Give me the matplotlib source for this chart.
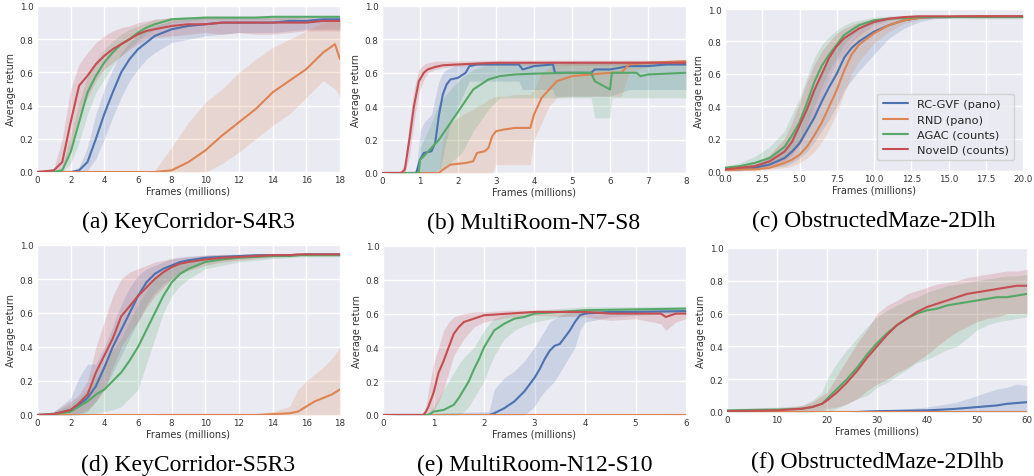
import matplotlib
matplotlib.use("Agg")
import matplotlib.pyplot as plt
import seaborn as sns
import numpy as np

sns.set_style("darkgrid")
plt.rcParams['font.family'] = ['DejaVu Sans']

COLORS = {"rc": "#4C72B0", "rnd": "#DD8452", "agac": "#55A868", "nov": "#C44E52"}
LABELS = {"rc": "RC-GVF (pano)", "rnd": "RND (pano)", "agac": "AGAC (counts)", "nov": "NovelD (counts)"}

# ---------------- (a) KeyCorridor-S4R3 ----------------
A_X = [0, 1, 1.5, 2, 2.5, 3, 3.5, 4, 4.5, 5, 5.5, 6, 6.5, 7, 8, 9, 10, 11, 12, 13, 14, 15, 16, 17, 17.7, 18]
A_RC = [0, 0, 0, 0, 0.01, 0.06, 0.2, 0.35, 0.48, 0.6, 0.68, 0.74, 0.78, 0.82, 0.86, 0.88, 0.89, 0.9, 0.9, 0.9, 0.9, 0.91, 0.91, 0.92, 0.92, 0.92]
A_RC_LO = [0, 0, 0, 0, 0, 0.01, 0.08, 0.2, 0.33, 0.45, 0.55, 0.62, 0.68, 0.72, 0.78, 0.8, 0.82, 0.83, 0.84, 0.84, 0.84, 0.85, 0.86, 0.86, 0.86, 0.86]
A_RC_HI = [0, 0, 0, 0, 0.03, 0.15, 0.35, 0.5, 0.62, 0.72, 0.78, 0.83, 0.86, 0.88, 0.91, 0.92, 0.93, 0.93, 0.93, 0.93, 0.93, 0.93, 0.93, 0.93, 0.93, 0.93]
A_RND = [0, 0, 0, 0, 0, 0, 0, 0, 0, 0, 0, 0, 0, 0, 0.01, 0.06, 0.13, 0.22, 0.3, 0.38, 0.48, 0.55, 0.62, 0.72, 0.77, 0.68]
A_RND_LO = [0, 0, 0, 0, 0, 0, 0, 0, 0, 0, 0, 0, 0, 0, 0, 0, 0, 0.05, 0.12, 0.2, 0.28, 0.35, 0.45, 0.55, 0.5, 0.45]
A_RND_HI = [0, 0, 0, 0, 0, 0, 0, 0, 0, 0, 0, 0, 0, 0.01, 0.15, 0.3, 0.42, 0.5, 0.6, 0.68, 0.75, 0.8, 0.85, 0.9, 0.92, 0.92]
A_AG = [0, 0, 0.01, 0.12, 0.3, 0.48, 0.58, 0.66, 0.72, 0.77, 0.8, 0.84, 0.87, 0.89, 0.92, 0.925, 0.93, 0.93, 0.93, 0.93, 0.935, 0.935, 0.935, 0.935, 0.935, 0.935]
A_AG_LO = [0, 0, 0, 0.05, 0.18, 0.35, 0.48, 0.56, 0.64, 0.7, 0.75, 0.79, 0.83, 0.86, 0.9, 0.91, 0.92, 0.92, 0.92, 0.92, 0.92, 0.92, 0.93, 0.93, 0.93, 0.93]
A_AG_HI = [0, 0, 0.03, 0.22, 0.42, 0.58, 0.67, 0.74, 0.79, 0.83, 0.86, 0.88, 0.9, 0.92, 0.93, 0.935, 0.94, 0.94, 0.94, 0.94, 0.94, 0.94, 0.94, 0.94, 0.94, 0.94]
A_NOV = [0, 0.01, 0.06, 0.3, 0.52, 0.58, 0.65, 0.7, 0.74, 0.77, 0.8, 0.83, 0.85, 0.86, 0.88, 0.89, 0.89, 0.9, 0.9, 0.9, 0.9, 0.9, 0.9, 0.91, 0.91, 0.91]
A_NOV_LO = [0, 0, 0.02, 0.15, 0.35, 0.45, 0.55, 0.62, 0.66, 0.7, 0.74, 0.77, 0.8, 0.81, 0.82, 0.83, 0.84, 0.83, 0.84, 0.83, 0.83, 0.84, 0.85, 0.85, 0.85, 0.85]
A_NOV_HI = [0, 0.02, 0.2, 0.5, 0.65, 0.72, 0.78, 0.82, 0.85, 0.87, 0.88, 0.9, 0.91, 0.92, 0.93, 0.93, 0.93, 0.93, 0.93, 0.93, 0.93, 0.93, 0.93, 0.93, 0.93, 0.93]

# ---------------- (b) MultiRoom-N7-S8 ----------------
B_RC_X = [0, 0.9, 1.0, 1.1, 1.3, 1.4, 1.5, 1.6, 1.7, 1.8, 2.0, 2.2, 2.3, 2.5, 3.0, 3.6, 3.7, 4.0, 4.5, 4.55, 5.0, 5.5, 5.6, 6.0, 6.5, 7.0, 7.5, 8.0]
B_RC = [0, 0, 0.08, 0.12, 0.13, 0.18, 0.35, 0.47, 0.53, 0.56, 0.57, 0.6, 0.64, 0.65, 0.65, 0.65, 0.62, 0.64, 0.65, 0.6, 0.6, 0.6, 0.62, 0.62, 0.64, 0.64, 0.65, 0.65]
B_RC_LO = [0, 0, 0, 0, 0, 0, 0, 0.1, 0.2, 0.3, 0.4, 0.5, 0.55, 0.55, 0.55, 0.55, 0.5, 0.5, 0.5, 0.46, 0.46, 0.46, 0.46, 0.46, 0.5, 0.5, 0.5, 0.5]
B_RC_HI = [0, 0.01, 0.25, 0.3, 0.35, 0.45, 0.55, 0.6, 0.62, 0.63, 0.65, 0.66, 0.66, 0.665, 0.665, 0.665, 0.665, 0.665, 0.67, 0.67, 0.67, 0.67, 0.67, 0.67, 0.67, 0.67, 0.67, 0.67]
B_RND_X = [0, 1.5, 1.6, 1.8, 2.2, 2.4, 2.5, 2.7, 2.8, 2.9, 3.0, 3.2, 3.5, 3.9, 4.0, 4.2, 4.4, 4.6, 5.0, 5.5, 6.0, 6.3, 6.5, 7.0, 8.0]
B_RND = [0, 0, 0.02, 0.05, 0.06, 0.07, 0.12, 0.13, 0.15, 0.22, 0.25, 0.26, 0.27, 0.27, 0.35, 0.45, 0.5, 0.55, 0.58, 0.59, 0.6, 0.6, 0.65, 0.66, 0.67]
B_RND_LO = [0, 0, 0, 0, 0, 0, 0, 0, 0, 0, 0.05, 0.05, 0.05, 0.05, 0.2, 0.3, 0.4, 0.45, 0.46, 0.46, 0.46, 0.46, 0.6, 0.64, 0.65]
B_RND_HI = [0, 0.01, 0.2, 0.3, 0.36, 0.38, 0.4, 0.42, 0.44, 0.45, 0.46, 0.46, 0.47, 0.47, 0.5, 0.6, 0.63, 0.65, 0.66, 0.67, 0.67, 0.67, 0.67, 0.67, 0.67]
B_AG_X = [0, 0.97, 1.0, 1.1, 1.3, 1.5, 1.8, 2.1, 2.4, 2.8, 3.1, 3.5, 4.0, 5.0, 5.5, 5.6, 6.0, 6.05, 6.5, 6.7, 6.8, 7.0, 8.0]
B_AG = [0, 0, 0.08, 0.1, 0.15, 0.2, 0.3, 0.4, 0.5, 0.56, 0.58, 0.59, 0.595, 0.6, 0.6, 0.55, 0.5, 0.6, 0.6, 0.6, 0.58, 0.59, 0.6]
B_AG_LO = [0, 0, 0, 0, 0, 0.02, 0.06, 0.12, 0.25, 0.38, 0.45, 0.45, 0.45, 0.45, 0.45, 0.33, 0.33, 0.45, 0.45, 0.45, 0.45, 0.45, 0.45]
B_AG_HI = [0, 0.01, 0.15, 0.2, 0.3, 0.42, 0.5, 0.57, 0.62, 0.65, 0.65, 0.66, 0.66, 0.66, 0.66, 0.66, 0.66, 0.66, 0.66, 0.66, 0.66, 0.66, 0.66]
B_NOV_X = [0, 0.5, 0.6, 0.72, 0.84, 0.97, 1.1, 1.2, 1.4, 1.6, 2.0, 3.0, 4.0, 5.0, 6.0, 7.0, 8.0]
B_NOV = [0, 0, 0.02, 0.2, 0.4, 0.55, 0.6, 0.62, 0.635, 0.645, 0.65, 0.66, 0.66, 0.66, 0.66, 0.66, 0.66]
B_NOV_LO = [0, 0, 0, 0.1, 0.3, 0.48, 0.56, 0.6, 0.62, 0.63, 0.64, 0.645, 0.645, 0.645, 0.645, 0.645, 0.645]
B_NOV_HI = [0, 0.01, 0.06, 0.3, 0.5, 0.62, 0.65, 0.66, 0.67, 0.67, 0.67, 0.675, 0.675, 0.675, 0.675, 0.675, 0.675]

# ---------------- (c) ObstructedMaze-2Dlh ----------------
C_X = [0, 1, 2, 3, 4, 4.5, 5, 5.5, 6, 6.5, 7, 7.5, 8, 8.5, 9, 10, 11, 12, 13, 14, 15, 17, 20]
C_RC = [0.01, 0.01, 0.02, 0.04, 0.08, 0.12, 0.17, 0.25, 0.33, 0.43, 0.52, 0.6, 0.7, 0.76, 0.8, 0.86, 0.9, 0.93, 0.945, 0.95, 0.95, 0.955, 0.955]
C_RC_LO = [0, 0, 0.01, 0.02, 0.03, 0.05, 0.08, 0.12, 0.18, 0.25, 0.32, 0.4, 0.5, 0.56, 0.62, 0.72, 0.82, 0.88, 0.92, 0.94, 0.945, 0.95, 0.95]
C_RC_HI = [0.02, 0.03, 0.04, 0.08, 0.15, 0.22, 0.3, 0.4, 0.5, 0.6, 0.7, 0.76, 0.82, 0.85, 0.88, 0.92, 0.94, 0.95, 0.955, 0.955, 0.955, 0.96, 0.96]
C_RND = [0, 0.01, 0.01, 0.02, 0.05, 0.07, 0.1, 0.15, 0.22, 0.3, 0.4, 0.5, 0.62, 0.72, 0.78, 0.85, 0.9, 0.93, 0.945, 0.95, 0.95, 0.955, 0.955]
C_RND_LO = [0, 0, 0, 0.01, 0.02, 0.03, 0.05, 0.08, 0.12, 0.18, 0.26, 0.36, 0.48, 0.6, 0.68, 0.79, 0.86, 0.91, 0.935, 0.945, 0.95, 0.95, 0.95]
C_RND_HI = [0.01, 0.02, 0.03, 0.05, 0.1, 0.14, 0.2, 0.27, 0.36, 0.46, 0.56, 0.66, 0.75, 0.81, 0.86, 0.9, 0.93, 0.95, 0.955, 0.955, 0.955, 0.96, 0.96]
C_AG = [0.02, 0.03, 0.05, 0.08, 0.15, 0.22, 0.3, 0.42, 0.55, 0.65, 0.72, 0.78, 0.84, 0.87, 0.9, 0.93, 0.94, 0.945, 0.95, 0.95, 0.95, 0.95, 0.95]
C_AG_LO = [0.01, 0.01, 0.02, 0.04, 0.08, 0.12, 0.18, 0.28, 0.4, 0.52, 0.62, 0.7, 0.78, 0.83, 0.87, 0.91, 0.93, 0.94, 0.945, 0.945, 0.945, 0.94, 0.94]
C_AG_HI = [0.03, 0.05, 0.09, 0.15, 0.25, 0.35, 0.45, 0.58, 0.7, 0.78, 0.83, 0.87, 0.9, 0.92, 0.93, 0.95, 0.955, 0.955, 0.955, 0.955, 0.955, 0.955, 0.955]
C_NOV = [0.01, 0.02, 0.03, 0.06, 0.12, 0.18, 0.28, 0.38, 0.5, 0.6, 0.7, 0.77, 0.82, 0.85, 0.88, 0.92, 0.94, 0.95, 0.955, 0.955, 0.955, 0.955, 0.955]
C_NOV_LO = [0, 0.01, 0.02, 0.03, 0.06, 0.1, 0.16, 0.24, 0.35, 0.46, 0.57, 0.67, 0.74, 0.8, 0.84, 0.9, 0.93, 0.945, 0.95, 0.95, 0.95, 0.95, 0.95]
C_NOV_HI = [0.02, 0.03, 0.05, 0.1, 0.2, 0.3, 0.42, 0.55, 0.66, 0.74, 0.8, 0.85, 0.88, 0.9, 0.92, 0.94, 0.955, 0.96, 0.96, 0.96, 0.96, 0.96, 0.96]

# ---------------- (d) KeyCorridor-S5R3 ----------------
D_X = [0, 1, 2, 2.5, 3, 3.5, 4, 4.5, 5, 5.5, 6, 6.5, 7, 7.5, 8, 8.5, 9, 10, 11, 12, 13, 14, 15, 15.5, 16, 16.5, 17, 17.5, 18]
D_RC = [0, 0.005, 0.03, 0.06, 0.1, 0.17, 0.28, 0.4, 0.5, 0.6, 0.7, 0.78, 0.83, 0.86, 0.88, 0.9, 0.91, 0.925, 0.93, 0.935, 0.94, 0.94, 0.94, 0.94, 0.945, 0.945, 0.945, 0.945, 0.945]
D_RC_LO = [0, 0, 0, 0, 0.02, 0.08, 0.15, 0.25, 0.35, 0.45, 0.55, 0.65, 0.72, 0.77, 0.8, 0.84, 0.86, 0.9, 0.92, 0.93, 0.935, 0.935, 0.935, 0.94, 0.94, 0.94, 0.94, 0.94, 0.94]
D_RC_HI = [0, 0.02, 0.1, 0.22, 0.3, 0.3, 0.4, 0.52, 0.65, 0.75, 0.82, 0.86, 0.88, 0.9, 0.92, 0.93, 0.935, 0.94, 0.945, 0.945, 0.945, 0.95, 0.95, 0.95, 0.95, 0.95, 0.95, 0.95, 0.95]
D_RND = [0, 0, 0, 0, 0, 0, 0, 0, 0, 0, 0, 0, 0, 0, 0, 0, 0, 0, 0, 0, 0, 0.005, 0.01, 0.02, 0.05, 0.08, 0.1, 0.12, 0.15]
D_RND_LO = [0] * 29
D_RND_HI = [0, 0, 0, 0, 0, 0, 0, 0, 0, 0, 0, 0, 0, 0.01, 0.01, 0.01, 0.01, 0.01, 0.01, 0.01, 0.005, 0.02, 0.05, 0.15, 0.2, 0.24, 0.28, 0.33, 0.4]
D_AG = [0, 0.005, 0.02, 0.05, 0.08, 0.12, 0.15, 0.2, 0.25, 0.32, 0.4, 0.5, 0.6, 0.7, 0.78, 0.83, 0.86, 0.9, 0.915, 0.925, 0.93, 0.935, 0.935, 0.94, 0.94, 0.94, 0.94, 0.94, 0.94]
D_AG_LO = [0, 0, 0, 0, 0, 0.01, 0.02, 0.03, 0.05, 0.1, 0.15, 0.3, 0.45, 0.6, 0.7, 0.76, 0.8, 0.86, 0.88, 0.9, 0.91, 0.92, 0.925, 0.93, 0.93, 0.93, 0.93, 0.93, 0.93]
D_AG_HI = [0, 0.02, 0.06, 0.1, 0.15, 0.22, 0.3, 0.38, 0.45, 0.55, 0.65, 0.73, 0.8, 0.85, 0.88, 0.9, 0.91, 0.93, 0.935, 0.94, 0.94, 0.945, 0.945, 0.945, 0.945, 0.945, 0.945, 0.945, 0.945]
D_NOV = [0, 0.005, 0.03, 0.07, 0.12, 0.25, 0.35, 0.45, 0.58, 0.64, 0.7, 0.75, 0.8, 0.84, 0.87, 0.89, 0.9, 0.915, 0.925, 0.93, 0.935, 0.94, 0.94, 0.945, 0.945, 0.945, 0.945, 0.945, 0.945]
D_NOV_LO = [0, 0, 0, 0.01, 0.03, 0.08, 0.15, 0.28, 0.4, 0.48, 0.55, 0.63, 0.7, 0.75, 0.8, 0.83, 0.85, 0.88, 0.9, 0.91, 0.92, 0.93, 0.935, 0.94, 0.94, 0.94, 0.94, 0.94, 0.94]
D_NOV_HI = [0, 0.02, 0.08, 0.12, 0.2, 0.4, 0.55, 0.7, 0.8, 0.84, 0.86, 0.88, 0.9, 0.91, 0.92, 0.925, 0.93, 0.94, 0.945, 0.945, 0.945, 0.95, 0.95, 0.95, 0.95, 0.95, 0.95, 0.95, 0.95]

# ---------------- (e) MultiRoom-N12-S10 ----------------
E_NOV_X = [0, 0.8, 0.85, 0.9, 1.0, 1.1, 1.2, 1.3, 1.4, 1.5, 1.6, 1.8, 2.0, 2.5, 3.0, 4.0, 4.5, 5.0, 5.5, 5.6, 5.8, 6.0]
E_NOV = [0, 0, 0.02, 0.05, 0.13, 0.25, 0.32, 0.4, 0.48, 0.52, 0.55, 0.57, 0.59, 0.6, 0.61, 0.61, 0.6, 0.6, 0.6, 0.58, 0.6, 0.6]
E_NOV_LO = [0, 0, 0, 0, 0.02, 0.08, 0.15, 0.25, 0.35, 0.4, 0.45, 0.52, 0.55, 0.58, 0.59, 0.58, 0.56, 0.57, 0.54, 0.5, 0.55, 0.57]
E_NOV_HI = [0, 0.01, 0.05, 0.15, 0.3, 0.4, 0.5, 0.55, 0.58, 0.59, 0.6, 0.61, 0.61, 0.62, 0.62, 0.62, 0.62, 0.62, 0.62, 0.62, 0.62, 0.62]
E_AG_X = [0, 0.9, 1.0, 1.2, 1.4, 1.5, 1.6, 1.7, 1.8, 1.9, 2.0, 2.1, 2.2, 2.4, 2.6, 2.8, 3.0, 3.5, 4.0, 5.0, 6.0]
E_AG = [0, 0, 0.02, 0.03, 0.06, 0.1, 0.15, 0.2, 0.27, 0.33, 0.4, 0.45, 0.5, 0.54, 0.57, 0.58, 0.6, 0.61, 0.62, 0.625, 0.63]
E_AG_LO = [0, 0, 0, 0, 0, 0, 0.02, 0.05, 0.1, 0.15, 0.2, 0.28, 0.35, 0.45, 0.5, 0.53, 0.55, 0.58, 0.6, 0.61, 0.61]
E_AG_HI = [0, 0.01, 0.05, 0.15, 0.25, 0.3, 0.34, 0.37, 0.4, 0.45, 0.5, 0.54, 0.57, 0.59, 0.6, 0.61, 0.62, 0.63, 0.64, 0.64, 0.64]
E_RC_X = [0, 2.1, 2.2, 2.4, 2.6, 2.8, 3.0, 3.1, 3.2, 3.3, 3.4, 3.5, 3.6, 3.7, 3.8, 3.9, 4.0, 4.5, 5.0, 6.0]
E_RC = [0, 0, 0.01, 0.04, 0.08, 0.14, 0.22, 0.27, 0.33, 0.38, 0.41, 0.42, 0.46, 0.5, 0.55, 0.59, 0.6, 0.61, 0.61, 0.615]
E_RC_LO = [0, 0, 0, 0, 0, 0, 0.05, 0.1, 0.14, 0.17, 0.2, 0.25, 0.3, 0.35, 0.4, 0.5, 0.55, 0.58, 0.59, 0.6]
E_RC_HI = [0, 0.02, 0.15, 0.22, 0.26, 0.32, 0.4, 0.45, 0.5, 0.55, 0.57, 0.59, 0.6, 0.61, 0.62, 0.62, 0.62, 0.63, 0.63, 0.63]
E_RND_X = [0, 6.0]
E_RND = [0, 0]
E_RND_LO = [0, 0]
E_RND_HI = [0, 0.003]

# ---------------- (f) ObstructedMaze-2Dlhb ----------------
F_X = [0, 10, 15, 17, 19, 20, 22, 24, 26, 28, 30, 32, 34, 36, 38, 40, 42, 44, 46, 48, 50, 52, 54, 56, 58, 60]
F_NOV = [0.005, 0.01, 0.02, 0.03, 0.05, 0.07, 0.12, 0.18, 0.25, 0.33, 0.4, 0.47, 0.53, 0.57, 0.61, 0.64, 0.66, 0.68, 0.7, 0.72, 0.73, 0.74, 0.75, 0.76, 0.77, 0.77]
F_NOV_LO = [0, 0, 0, 0, 0.01, 0.02, 0.03, 0.05, 0.08, 0.13, 0.17, 0.2, 0.24, 0.27, 0.31, 0.35, 0.4, 0.45, 0.49, 0.52, 0.55, 0.57, 0.58, 0.6, 0.6, 0.6]
F_NOV_HI = [0.01, 0.02, 0.04, 0.06, 0.1, 0.12, 0.22, 0.32, 0.42, 0.5, 0.6, 0.65, 0.68, 0.72, 0.74, 0.76, 0.78, 0.79, 0.8, 0.82, 0.83, 0.84, 0.85, 0.86, 0.86, 0.87]
F_AG = [0.01, 0.015, 0.02, 0.03, 0.05, 0.08, 0.14, 0.2, 0.27, 0.35, 0.42, 0.48, 0.53, 0.57, 0.6, 0.62, 0.63, 0.65, 0.66, 0.67, 0.68, 0.69, 0.7, 0.7, 0.71, 0.72]
F_AG_LO = [0, 0, 0, 0, 0, 0, 0.02, 0.05, 0.08, 0.1, 0.15, 0.18, 0.22, 0.26, 0.3, 0.32, 0.35, 0.38, 0.4, 0.45, 0.5, 0.53, 0.55, 0.56, 0.57, 0.58]
F_AG_HI = [0.02, 0.03, 0.04, 0.07, 0.12, 0.2, 0.3, 0.38, 0.45, 0.52, 0.58, 0.62, 0.65, 0.68, 0.7, 0.73, 0.75, 0.77, 0.78, 0.79, 0.8, 0.81, 0.82, 0.83, 0.83, 0.84]
F_RC = [0, 0, 0, 0, 0, 0, 0, 0, 0, 0.003, 0.005, 0.006, 0.007, 0.008, 0.009, 0.01, 0.013, 0.016, 0.02, 0.025, 0.03, 0.035, 0.04, 0.05, 0.055, 0.06]
F_RC_LO = [0] * 26
F_RC_HI = [0, 0, 0, 0, 0, 0, 0, 0, 0.005, 0.008, 0.01, 0.012, 0.015, 0.02, 0.025, 0.03, 0.04, 0.05, 0.06, 0.08, 0.1, 0.12, 0.14, 0.15, 0.17, 0.16]
F_RND = [0] * 26
F_RND_LO = [0] * 26
F_RND_HI = [0.002] * 26

PANELS = [
    dict(caption="(a) KeyCorridor-S4R3", xlim=18, xticks=[0, 2, 4, 6, 8, 10, 12, 14, 16, 18], fmt="{:d}",
         box=(37, 7, 340, 173),
         series=[("rc", A_X, A_RC, A_RC_LO, A_RC_HI), ("rnd", A_X, A_RND, A_RND_LO, A_RND_HI),
                 ("agac", A_X, A_AG, A_AG_LO, A_AG_HI), ("nov", A_X, A_NOV, A_NOV_LO, A_NOV_HI)]),
    dict(caption="(b) MultiRoom-N7-S8", xlim=8, xticks=list(range(9)), fmt="{:d}",
         box=(382, 7, 686, 174),
         series=[("rc", B_RC_X, B_RC, B_RC_LO, B_RC_HI), ("rnd", B_RND_X, B_RND, B_RND_LO, B_RND_HI),
                 ("agac", B_AG_X, B_AG, B_AG_LO, B_AG_HI), ("nov", B_NOV_X, B_NOV, B_NOV_LO, B_NOV_HI)]),
    dict(caption="(c) ObstructedMaze-2Dlh", xlim=20, xticks=[0, 2.5, 5, 7.5, 10, 12.5, 15, 17.5, 20], fmt="{:.1f}",
         box=(725, 10, 1023, 172), legend=True,
         series=[("rc", C_X, C_RC, C_RC_LO, C_RC_HI), ("rnd", C_X, C_RND, C_RND_LO, C_RND_HI),
                 ("agac", C_X, C_AG, C_AG_LO, C_AG_HI), ("nov", C_X, C_NOV, C_NOV_LO, C_NOV_HI)]),
    dict(caption="(d) KeyCorridor-S5R3", xlim=18, xticks=[0, 2, 4, 6, 8, 10, 12, 14, 16, 18], fmt="{:d}",
         box=(37, 246, 340, 416),
         series=[("rc", D_X, D_RC, D_RC_LO, D_RC_HI), ("rnd", D_X, D_RND, D_RND_LO, D_RND_HI),
                 ("agac", D_X, D_AG, D_AG_LO, D_AG_HI), ("nov", D_X, D_NOV, D_NOV_LO, D_NOV_HI)]),
    dict(caption="(e) MultiRoom-N12-S10", xlim=6, xticks=list(range(7)), fmt="{:d}",
         box=(383, 247, 686, 416),
         series=[("rc", E_RC_X, E_RC, E_RC_LO, E_RC_HI), ("rnd", E_RND_X, E_RND, E_RND_LO, E_RND_HI),
                 ("agac", E_AG_X, E_AG, E_AG_LO, E_AG_HI), ("nov", E_NOV_X, E_NOV, E_NOV_LO, E_NOV_HI)]),
    dict(caption="(f) ObstructedMaze-2Dlhb", xlim=60, xticks=[0, 10, 20, 30, 40, 50, 60], fmt="{:d}",
         box=(727, 249, 1027, 413),
         series=[("rc", F_X, F_RC, F_RC_LO, F_RC_HI), ("rnd", F_X, F_RND, F_RND_LO, F_RND_HI),
                 ("agac", F_X, F_AG, F_AG_LO, F_AG_HI), ("nov", F_X, F_NOV, F_NOV_LO, F_NOV_HI)]),
]

W, H = 1034, 477
fig = plt.figure(figsize=(W / 100, H / 100), dpi=100)
fig.patch.set_facecolor("white")

for p in PANELS:
    l, t, r, b = p["box"]
    ax = fig.add_axes([l / W, 1 - b / H, (r - l) / W, (b - t) / H])
    ax.set_facecolor("#EAEAF2")
    for key, x, m, lo, hi in p["series"]:
        c = COLORS[key]
        ax.fill_between(x, lo, hi, color=c, alpha=0.2, lw=0)
        ax.plot(x, m, color=c, lw=1.5, label=LABELS[key])
    ax.set_xlim(0, p["xlim"])
    ax.set_ylim(0, 1.0)
    ax.set_xticks(p["xticks"])
    ax.set_xticklabels([p["fmt"].format(v) for v in p["xticks"]])
    ax.set_yticks([0, 0.2, 0.4, 0.6, 0.8, 1.0])
    ax.set_yticklabels(["0.0", "0.2", "0.4", "0.6", "0.8", "1.0"])
    ax.tick_params(axis="both", labelsize=6.3, colors="#333333", length=0, pad=2.5)
    ax.grid(True, color="white", lw=1.0)
    for s in ax.spines.values():
        s.set_visible(False)
    ax.set_xlabel("Frames (millions)", fontsize=7, color="#333333", labelpad=1)
    ax.set_ylabel("Average return", fontsize=7, color="#333333", labelpad=2.5)
    if p.get("legend"):
        leg = ax.legend(loc="lower right", fontsize=8.2, frameon=True, handlelength=2.2,
                        borderpad=0.5, labelspacing=0.45, bbox_to_anchor=(0.99, 0.03))
        leg.get_frame().set_facecolor("#EAEAF2")
        leg.get_frame().set_edgecolor("#cccccc")
    cx = (l + r) / 2 / W
    cy = 1 - (b + 49) / H
    fig.text(cx, cy, p["caption"], ha="center", va="center", fontsize=17,
             family="Liberation Serif", color="black")

fig.savefig("out.png", dpi=100)
